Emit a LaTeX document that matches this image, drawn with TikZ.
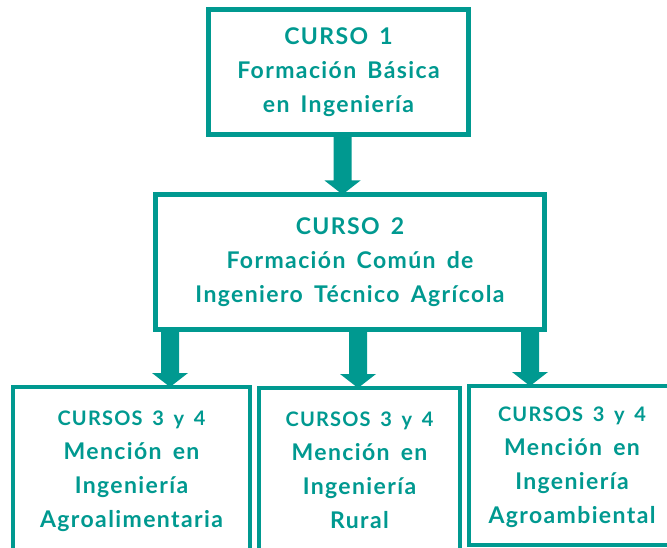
\documentclass[tikz,border=0pt]{standalone}
\usepackage{fontspec}
\setmainfont{Lato}[LetterSpace=6,WordSpace=1.6]
\usetikzlibrary{calc}
\definecolor{tealc}{RGB}{0,153,144}
\newcommand\tb[2]{\raisebox{#1}{\begin{tabular}{@{}c@{}}#2\end{tabular}}}
\tikzset{
  box/.style={draw=tealc, line width=4.5pt, rectangle, inner sep=0pt, outer sep=0pt,
    text=tealc, font=\bfseries\fontsize{23}{34}\selectfont},
  blockarrow/.style={fill=tealc}
}
\newcommand\barrow[2]{%
  \path[blockarrow] ($(#1)+(-9pt,0)$) -- ($(#2)+(-9pt,14pt)$) -- ($(#2)+(-18pt,14pt)$) -- (#2)
    -- ($(#2)+(18pt,14pt)$) -- ($(#2)+(9pt,14pt)$) -- ($(#1)+(9pt,0)$) -- cycle;}
\begin{document}
\begin{tikzpicture}[x=1pt,y=-1pt]
\useasboundingbox (0,0) rectangle (667,548);
\clip (0,0) rectangle (667,548);
\fill[white] (0,0) rectangle (667,548);
\node[box, minimum width=260pt, minimum height=125pt] (b1) at (338.5,72)
  {\tb{-2pt}{CURSO 1\\Formación Básica\\en Ingeniería}};
\node[box, minimum width=389pt, minimum height=135pt] (b2) at (350,262)
  {\tb{5pt}{CURSO 2\\Formación Común de\\Ingeniero Técnico Agrícola}};
\node[box, line width=4pt, minimum width=237pt, minimum height=166pt] (b3) at (131.5,470)
  {\tb{4pt}{{\fontsize{20}{34}\selectfont CURSOS 3 y 4}\\Mención en\\Ingeniería\\Agroalimentaria}};
\node[box, line width=4pt, minimum width=201pt, minimum height=165pt] (b4) at (359.5,470.5)
  {\tb{4pt}{{\fontsize{20}{34}\selectfont CURSOS 3 y 4}\\Mención en\\Ingeniería\\Rural}};
\node[box, line width=4pt, minimum width=206pt, minimum height=159pt] (b5) at (572,465.5)
  {\tb{1pt}{{\fontsize{20}{34}\selectfont CURSOS 3 y 4}\\Mención en\\Ingeniería\\Agroambiental}};
\coordinate (a1) at ($(b1.south)+(4,0)$);
\barrow{a1}{a1 |- b2.north}
\coordinate (a2) at (b2.south -| 170,0);
\barrow{a2}{a2 |- b3.north}
\coordinate (a3) at (b2.south -| 358,0);
\barrow{a3}{a3 |- b4.north}
\coordinate (a4) at (b2.south -| 530,0);
\barrow{a4}{a4 |- b5.north}
\end{tikzpicture}
\end{document}
